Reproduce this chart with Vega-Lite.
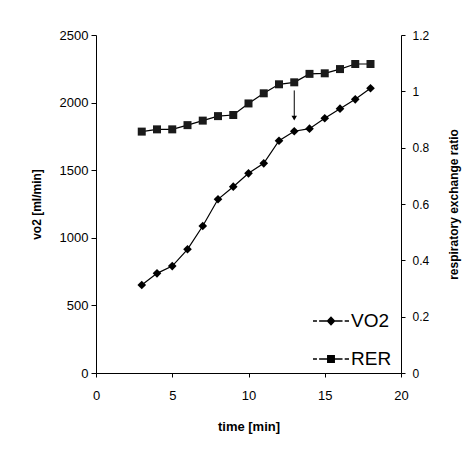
{
  "$schema": "https://vega.github.io/schema/vega-lite/v6.json",
  "width": 305,
  "height": 338,
  "autosize": {"type": "none"},
  "padding": {"left": 96, "top": 35, "right": 68, "bottom": 83},
  "background": "white",
  "config": {
    "view": {"stroke": null},
    "font": "Liberation Sans",
    "axis": {
      "domainColor": "black",
      "tickColor": "black",
      "labelColor": "black",
      "titleColor": "black",
      "grid": false,
      "labelFontSize": 12,
      "titleFontSize": 12,
      "titleFontWeight": "bold",
      "labelFont": "Liberation Sans",
      "titleFont": "Liberation Sans"
    }
  },
  "datasets": {
    "main": [
      {"time": 3, "vo2": 651, "rer": 0.857},
      {"time": 4, "vo2": 737, "rer": 0.865},
      {"time": 5, "vo2": 791, "rer": 0.865},
      {"time": 6, "vo2": 915, "rer": 0.880},
      {"time": 7, "vo2": 1087, "rer": 0.896},
      {"time": 8, "vo2": 1285, "rer": 0.912},
      {"time": 9, "vo2": 1378, "rer": 0.916},
      {"time": 10, "vo2": 1477, "rer": 0.957},
      {"time": 11, "vo2": 1551, "rer": 0.993},
      {"time": 12, "vo2": 1718, "rer": 1.025},
      {"time": 13, "vo2": 1788, "rer": 1.032},
      {"time": 14, "vo2": 1807, "rer": 1.062},
      {"time": 15, "vo2": 1884, "rer": 1.064},
      {"time": 16, "vo2": 1955, "rer": 1.079},
      {"time": 17, "vo2": 2024, "rer": 1.097},
      {"time": 18, "vo2": 2106, "rer": 1.097}
    ],
    "arrow": [
      {"time": 13, "vo2": 2090, "vo2_end": 1885}
    ]
  },
  "encoding": {
    "x": {
      "field": "time",
      "type": "quantitative",
      "scale": {"domain": [0, 20], "nice": false},
      "axis": {
        "values": [0, 5, 10, 15, 20],
        "title": "time [min]",
        "tickSize": 4,
        "labelPadding": 12,
        "labelFontSize": 13,
        "titleFontSize": 13,
        "titlePadding": 18,
        "labelFlush": false
      }
    }
  },
  "layer": [
    {
      "encoding": {
        "y": {
          "field": "vo2",
          "type": "quantitative",
          "title": "vo2 [ml/min]",
          "scale": {"domain": [0, 2500], "nice": false},
          "axis": {
            "values": [0, 500, 1000, 1500, 2000, 2500],
            "format": "d",
            "tickSize": 5,
            "labelPadding": 3,
            "labelFontSize": 13,
            "titlePadding": 16
          }
        }
      },
      "layer": [
        {
          "data": {"name": "main"},
          "mark": {"type": "line", "color": "black", "strokeWidth": 1.2}
        },
        {
          "data": {"name": "main"},
          "mark": {"type": "point", "shape": "diamond", "filled": true, "color": "black", "size": 75, "opacity": 1}
        },
        {
          "data": {"name": "main"},
          "mark": {"type": "point", "filled": true, "color": "black", "size": 10, "opacity": 0},
          "encoding": {
            "shape": {
              "datum": "VO2",
              "type": "nominal",
              "scale": {
                "domain": ["VO2", "RER"],
                "range": [
                  "M-1,-0.04L-0.78,-0.04L-0.78,0.04L-1,0.04ZM-0.66,-0.04L-0.2,-0.04L-0.2,0.04L-0.66,0.04ZM0.2,-0.04L0.64,-0.04L0.64,0.04L0.2,0.04ZM0.76,-0.04L1,-0.04L1,0.04L0.76,0.04ZM0,-0.27L0.25,0L0,0.27L-0.25,0Z",
                  "M-1,-0.04L-0.78,-0.04L-0.78,0.04L-1,0.04ZM-0.66,-0.04L-0.2,-0.04L-0.2,0.04L-0.66,0.04ZM0.2,-0.04L0.64,-0.04L0.64,0.04L0.2,0.04ZM0.76,-0.04L1,-0.04L1,0.04L0.76,0.04ZM-0.22,-0.22L0.22,-0.22L0.22,0.22L-0.22,0.22Z"
                ]
              },
              "legend": {
                "orient": "none",
                "legendX": 216,
                "legendY": 267,
                "title": null,
                "padding": 0,
                "labelFontSize": 19,
                "labelFont": "Liberation Sans",
                "labelColor": "black",
                "labelOffset": 1,
                "symbolSize": 1296,
                "rowPadding": 9,
                "symbolOpacity": 1,
                "symbolFillColor": "black",
                "encode": {
                  "symbols": {
                    "fill": {"value": "black"},
                    "opacity": {"value": 1}
                  }
                }
              }
            }
          }
        },
        {
          "data": {"name": "arrow"},
          "mark": {"type": "rule", "color": "black", "strokeWidth": 1},
          "encoding": {
            "y": {"field": "vo2", "type": "quantitative", "title": "vo2 [ml/min]"},
            "y2": {"field": "vo2_end"}
          }
        },
        {
          "data": {"name": "arrow"},
          "mark": {"type": "point", "shape": "triangle-down", "filled": true, "color": "black", "size": 30, "opacity": 1},
          "encoding": {
            "y": {"field": "vo2_end", "type": "quantitative", "title": "vo2 [ml/min]"}
          }
        }
      ]
    },
    {
      "data": {"name": "main"},
      "encoding": {
        "y": {
          "field": "rer",
          "type": "quantitative",
          "title": "respiratory exchange ratio",
          "scale": {"domain": [0, 1.2], "nice": false},
          "axis": {
            "orient": "right",
            "values": [0, 0.2, 0.4, 0.6, 0.8, 1, 1.2],
            "format": "~g",
            "tickSize": 4,
            "labelPadding": 7,
            "titleAngle": 270,
            "titlePadding": 32
          }
        }
      },
      "layer": [
        {"mark": {"type": "line", "color": "black", "strokeWidth": 1.2}},
        {"mark": {"type": "point", "shape": "square", "filled": true, "color": "#1a1a1a", "size": 64, "opacity": 1}},
        {
          "mark": {"type": "point", "filled": true, "color": "black", "size": 10, "opacity": 0},
          "encoding": {"shape": {"datum": "RER", "type": "nominal"}}
        }
      ]
    }
  ],
  "resolve": {"scale": {"y": "independent"}}
}
